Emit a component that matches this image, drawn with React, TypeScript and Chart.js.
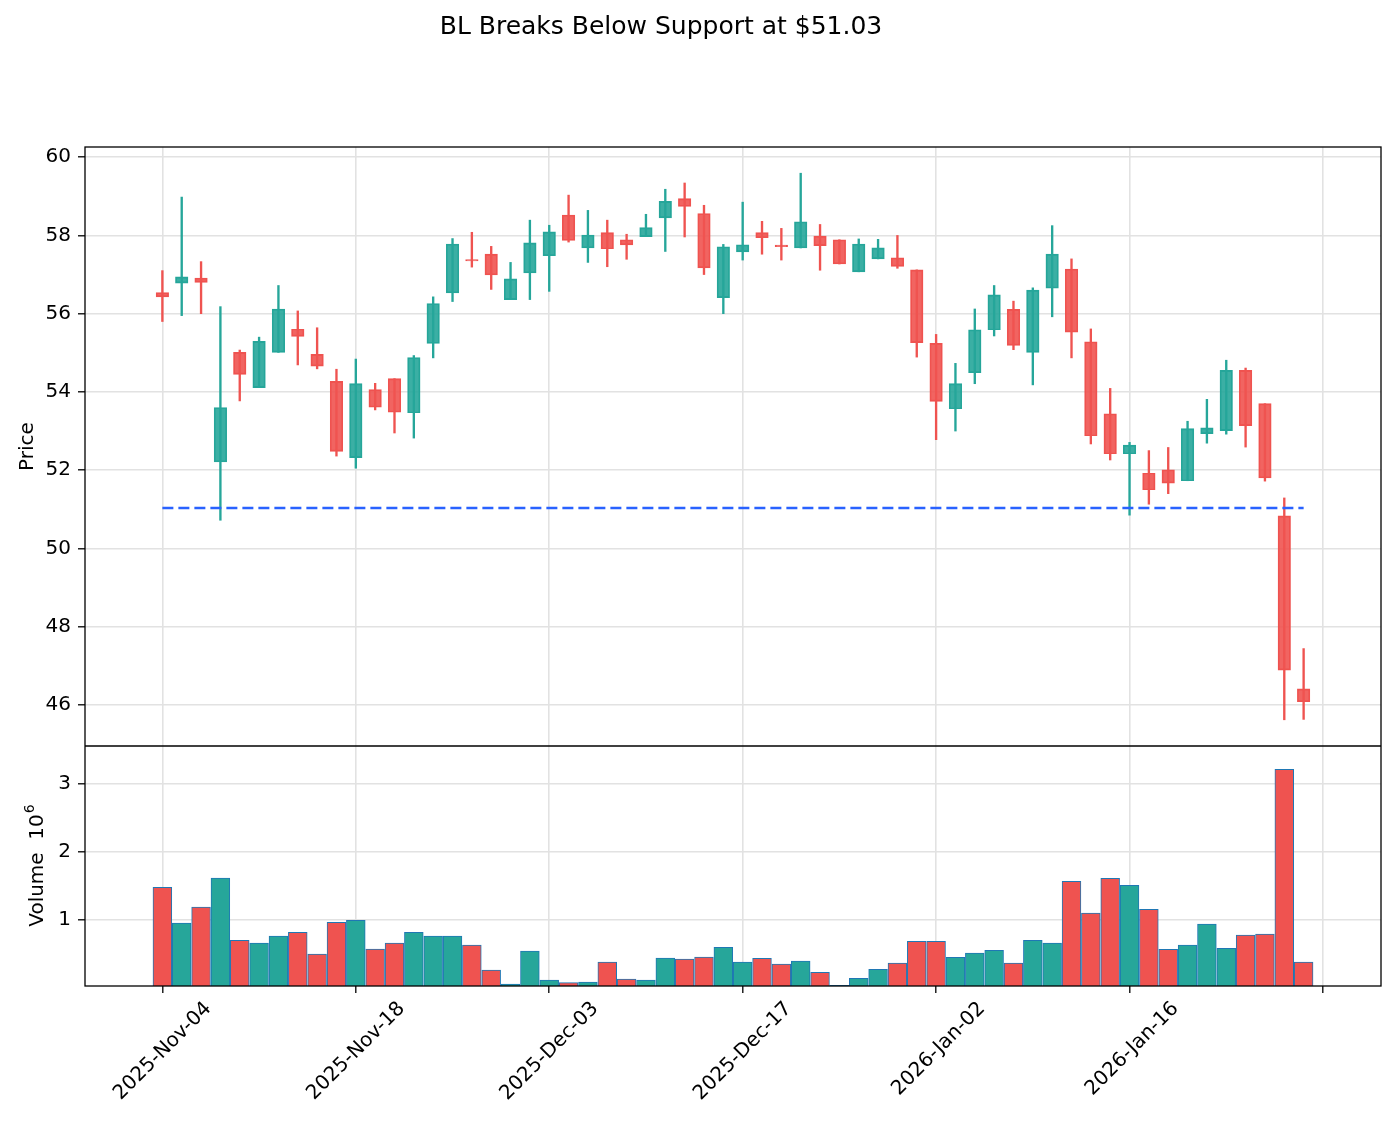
import React, { useEffect, useRef } from 'react';
import { Chart, registerables } from 'chart.js';

Chart.register(...registerables);

const TITLE = 'BL Breaks Below Support at $51.03';
const SUPPORT = 51.03;

const DATES = [
  '2025-11-04', '2025-11-05', '2025-11-06', '2025-11-07', '2025-11-10', '2025-11-11', '2025-11-12', '2025-11-13',
  '2025-11-14', '2025-11-17', '2025-11-18', '2025-11-19', '2025-11-20', '2025-11-21', '2025-11-24', '2025-11-25',
  '2025-11-26', '2025-11-28', '2025-12-01', '2025-12-02', '2025-12-03', '2025-12-04', '2025-12-05', '2025-12-08',
  '2025-12-09', '2025-12-10', '2025-12-11', '2025-12-12', '2025-12-15', '2025-12-16', '2025-12-17', '2025-12-18',
  '2025-12-19', '2025-12-22', '2025-12-23', '2025-12-24', '2025-12-26', '2025-12-29', '2025-12-30', '2025-12-31',
  '2026-01-02', '2026-01-05', '2026-01-06', '2026-01-07', '2026-01-08', '2026-01-09', '2026-01-12', '2026-01-13',
  '2026-01-14', '2026-01-15', '2026-01-16', '2026-01-20', '2026-01-21', '2026-01-22', '2026-01-23', '2026-01-26',
  '2026-01-27', '2026-01-28', '2026-01-29', '2026-01-30',
];

const OPEN = [
  56.54, 56.78, 56.91, 52.21, 55.01, 54.11, 55.01, 55.60, 54.96, 54.27,
  52.32, 54.06, 54.34, 53.47, 55.24, 56.53, 57.38, 57.52, 56.36, 57.04,
  57.48, 58.52, 57.68, 58.07, 57.89, 57.97, 58.45, 58.94, 58.56, 56.41,
  57.58, 58.07, 57.75, 57.68, 57.98, 57.89, 57.07, 57.40, 57.43, 57.12,
  55.24, 53.57, 54.49, 55.59, 56.11, 55.01, 56.65, 57.14, 55.28, 53.44,
  52.42, 51.92, 52.01, 51.73, 52.93, 53.01, 54.55, 53.70, 50.83, 46.41,
];
const HIGH = [
  57.10, 58.98, 57.33, 56.18, 55.07, 55.40, 56.72, 56.07, 55.64, 54.58,
  54.84, 54.22, 54.34, 54.93, 56.43, 57.92, 58.08, 57.72, 57.31, 58.39,
  58.26, 59.03, 58.64, 58.39, 58.03, 58.54, 59.18, 59.34, 58.77, 57.77,
  58.85, 58.36, 58.18, 59.59, 58.28, 57.89, 57.91, 57.90, 58.00, 57.12,
  55.47, 54.73, 56.12, 56.72, 56.32, 56.66, 58.25, 57.40, 55.61, 54.09,
  52.71, 52.50, 52.58, 53.25, 53.81, 54.81, 54.61, 53.70, 51.29, 47.44,
];
const LOW = [
  55.80, 55.95, 56.00, 50.72, 53.77, 54.11, 55.01, 54.69, 54.59, 52.36,
  52.05, 53.54, 52.95, 52.82, 54.87, 56.31, 57.19, 56.62, 56.36, 56.36,
  56.57, 57.83, 57.31, 57.20, 57.39, 57.97, 57.59, 57.96, 57.00, 56.00,
  57.37, 57.52, 57.37, 57.68, 57.11, 57.27, 57.07, 57.40, 57.16, 54.89,
  52.78, 53.00, 54.21, 55.43, 55.08, 54.18, 55.92, 54.87, 52.67, 52.26,
  50.85, 51.13, 51.40, 51.73, 52.69, 52.92, 52.59, 51.72, 45.62, 45.63,
];
const CLOSE = [
  56.43, 56.94, 56.80, 53.60, 54.45, 55.29, 56.12, 55.42, 54.66, 52.48,
  54.21, 53.61, 53.48, 54.88, 56.26, 57.78, 57.35, 56.99, 56.89, 57.81,
  58.09, 57.87, 58.01, 57.66, 57.76, 58.20, 58.87, 58.74, 57.17, 57.71,
  57.76, 57.94, 57.71, 58.35, 57.74, 57.27, 57.78, 57.68, 57.21, 55.26,
  53.76, 54.21, 55.59, 56.48, 55.19, 56.60, 57.52, 55.53, 52.88, 52.42,
  52.64, 51.50, 51.67, 53.06, 53.08, 54.55, 53.14, 51.80, 46.89, 46.08,
];
// volume in millions of shares
const VOLUME_M = [
  1.475, 0.951, 1.186, 1.613, 0.696, 0.657, 0.760, 0.814, 0.495, 0.961,
  0.990, 0.569, 0.657, 0.814, 0.760, 0.760, 0.627, 0.260, 0.054, 0.539,
  0.113, 0.074, 0.083, 0.377, 0.127, 0.113, 0.436, 0.422, 0.451, 0.593,
  0.377, 0.431, 0.348, 0.392, 0.225, 0.034, 0.137, 0.270, 0.363, 0.681,
  0.681, 0.446, 0.510, 0.549, 0.363, 0.696, 0.657, 1.564, 1.098, 1.608,
  1.505, 1.152, 0.564, 0.627, 0.936, 0.578, 0.775, 0.789, 3.211, 0.377,
];

const PRICE_TICKS = [46, 48, 50, 52, 54, 56, 58, 60];
const VOLUME_TICKS = [1, 2, 3];
const X_TICKS = [0, 10, 20, 30, 40, 50, 60];
const MONTHS = ['Jan', 'Feb', 'Mar', 'Apr', 'May', 'Jun', 'Jul', 'Aug', 'Sep', 'Oct', 'Nov', 'Dec'];

const UP = '#26a69a';
const DOWN = '#ef5350';
const UP_FILL = 'rgba(38,166,154,0.9)';
const DOWN_FILL = 'rgba(239,83,80,0.9)';
const GRID = '#e2e2e2';
const FONT = 'DejaVu Sans';

function fmtDate(iso: string): string {
  const [y, m, d] = iso.split('-');
  return `${y}-${MONTHS[Number(m) - 1]}-${d}`;
}

const decor = {
  id: 'decor',
  afterDraw(chart: any) {
    const { ctx, chartArea: a, scales } = chart;
    ctx.save();
    ctx.strokeStyle = '#000';
    ctx.lineWidth = 1.3;
    const mid = scales.y.bottom;
    ctx.strokeRect(a.left, a.top, a.right - a.left, a.bottom - a.top);
    ctx.beginPath();
    ctx.moveTo(a.left, mid);
    ctx.lineTo(a.right, mid);
    ctx.stroke();

    ctx.fillStyle = '#000';
    ctx.textBaseline = 'alphabetic';
    ctx.textAlign = 'center';
    ctx.font = `25px "${FONT}"`;
    ctx.fillText(TITLE, 661, 34);

    ctx.font = `20px "${FONT}"`;
    ctx.save();
    ctx.translate(33, (scales.y.top + scales.y.bottom) / 2);
    ctx.rotate(-Math.PI / 2);
    ctx.fillText('Price', 0, 0);
    ctx.restore();

    const main = 'Volume  10';
    ctx.font = `20px "${FONT}"`;
    const w1 = ctx.measureText(main).width;
    ctx.font = `14px "${FONT}"`;
    const w2 = ctx.measureText('6').width;
    ctx.save();
    ctx.translate(43, (scales.yv.top + scales.yv.bottom) / 2);
    ctx.rotate(-Math.PI / 2);
    ctx.textAlign = 'left';
    const x0 = -(w1 + w2) / 2;
    ctx.font = `20px "${FONT}"`;
    ctx.fillText(main, x0, 0);
    ctx.font = `14px "${FONT}"`;
    ctx.fillText('6', x0 + w1 + 1, -9);
    ctx.restore();
    ctx.restore();
  },
};

export default function App() {
  const ref = useRef<HTMLCanvasElement | null>(null);

  useEffect(() => {
    if (!ref.current) return;
    const idx = DATES.map((_, i) => i);
    const isUp = (i: number) => CLOSE[i] >= OPEN[i];
    const tickFont = { family: FONT, size: 20 };

    const chart = new Chart(ref.current, {
      type: 'bar',
      data: {
        datasets: [
          {
            type: 'line',
            data: [
              { x: 0, y: SUPPORT },
              { x: DATES.length - 1, y: SUPPORT },
            ],
            yAxisID: 'y',
            borderColor: '#2962ff',
            borderWidth: 2.5,
            borderDash: [11, 5],
            pointRadius: 0,
            fill: false,
            order: 0,
          } as any,
          {
            type: 'bar',
            data: idx.map((i) => ({ x: i, y: [OPEN[i], CLOSE[i]] })),
            yAxisID: 'y',
            backgroundColor: idx.map((i) => (isUp(i) ? UP_FILL : DOWN_FILL)),
            borderColor: idx.map((i) => (isUp(i) ? UP : DOWN)),
            borderWidth: 1.2,
            borderSkipped: false,
            barThickness: 12.5,
            grouped: false,
            order: 1,
          } as any,
          {
            type: 'bar',
            data: idx.map((i) => ({ x: i, y: [LOW[i], HIGH[i]] })),
            yAxisID: 'y',
            backgroundColor: idx.map((i) => (isUp(i) ? UP : DOWN)),
            borderWidth: 0,
            barThickness: 1.7,
            grouped: false,
            order: 2,
          } as any,
          {
            type: 'bar',
            data: idx.map((i) => ({ x: i, y: VOLUME_M[i] })),
            yAxisID: 'yv',
            backgroundColor: idx.map((i) => (isUp(i) ? UP : DOWN)),
            borderColor: '#1f77b4',
            borderWidth: 1,
            barThickness: 18.8,
            grouped: false,
            order: 3,
          } as any,
        ],
      },
      options: {
        animation: false,
        responsive: false,
        maintainAspectRatio: false,
        events: [],
        layout: { padding: { top: 147, right: 14, left: 0, bottom: 0 } },
        plugins: {
          legend: { display: false },
          tooltip: { enabled: false },
          title: { display: false },
        },
        scales: {
          x: {
            type: 'linear',
            min: -4,
            max: 63,
            offset: false,
            afterBuildTicks: (s: any) => {
              s.ticks = X_TICKS.map((v) => ({ value: v }));
            },
            afterFit: (s: any) => {
              s.height = 140;
            },
            grid: { color: GRID, lineWidth: 1.6, tickColor: '#000', tickLength: 7, tickWidth: 1.3, offset: false },
            border: { display: false },
            ticks: {
              autoSkip: false,
              minRotation: 45,
              maxRotation: 45,
              labelOffset: 46,
              padding: 4,
              color: '#000',
              font: tickFont,
              callback: (v: any) => (DATES[v] !== undefined ? fmtDate(DATES[v]) : ''),
            },
          },
          yv: {
            type: 'linear',
            position: 'left',
            stack: 'panels',
            stackWeight: 240,
            min: 0.025,
            max: 3.555,
            afterBuildTicks: (s: any) => {
              s.ticks = VOLUME_TICKS.map((v) => ({ value: v }));
            },
            afterFit: (s: any) => {
              s.width = 85;
            },
            grid: { color: GRID, lineWidth: 1.6, tickColor: '#000', tickLength: 7, tickWidth: 1.3 },
            border: { display: false },
            ticks: { color: '#000', font: tickFont, padding: 7, callback: (v: any) => String(v) },
          },
          y: {
            type: 'linear',
            position: 'left',
            stack: 'panels',
            stackWeight: 599,
            min: 44.95,
            max: 60.26,
            afterBuildTicks: (s: any) => {
              s.ticks = PRICE_TICKS.map((v) => ({ value: v }));
            },
            afterFit: (s: any) => {
              s.width = 85;
            },
            grid: { color: GRID, lineWidth: 1.6, tickColor: '#000', tickLength: 7, tickWidth: 1.3 },
            border: { display: false },
            ticks: { color: '#000', font: tickFont, padding: 7, callback: (v: any) => String(v) },
          },
        },
      } as any,
      plugins: [decor],
    });
    return () => chart.destroy();
  }, []);

  return (
    <div style={{ position: 'absolute', left: 0, top: 0, width: 1395, height: 1126, background: '#fff' }}>
      <canvas ref={ref} width={1395} height={1126} style={{ width: 1395, height: 1126, display: 'block' }} />
    </div>
  );
}
